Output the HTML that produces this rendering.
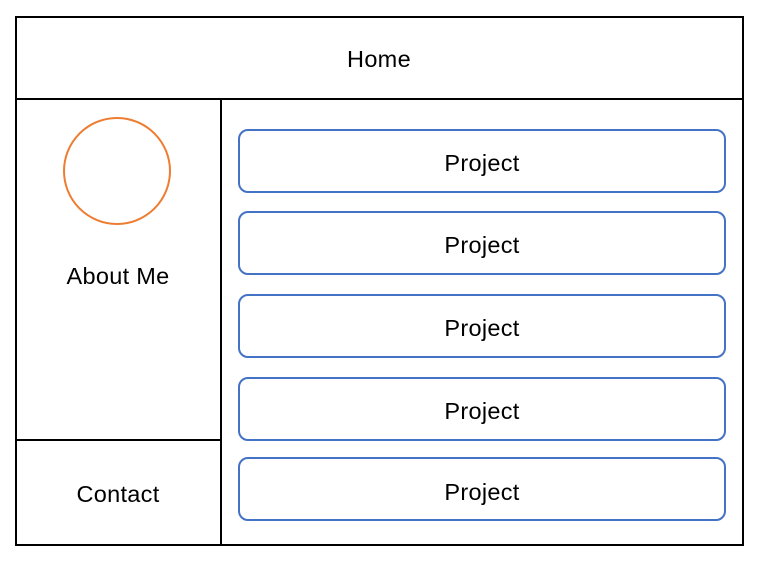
<!DOCTYPE html>
<html><head><style>
body{margin:0;width:765px;height:556px;background:#fff;font-family:"Liberation Sans",sans-serif;}
</style></head><body>
<svg width="765" height="556" xmlns="http://www.w3.org/2000/svg" font-family="Liberation Sans, sans-serif" font-size="23.5" letter-spacing="0.3">
<rect x="16" y="17" width="727" height="528" fill="none" stroke="#000" stroke-width="2"/>
<line x1="16" y1="99" x2="743" y2="99" stroke="#000" stroke-width="2"/>
<line x1="221" y1="99" x2="221" y2="545" stroke="#000" stroke-width="2"/>
<line x1="16" y1="440" x2="221" y2="440" stroke="#000" stroke-width="2"/>
<text x="379" y="67" text-anchor="middle">Home</text>
<circle cx="117" cy="171" r="53" fill="none" stroke="#ED7D31" stroke-width="2"/>
<text x="118" y="284" text-anchor="middle">About Me</text>
<text x="118" y="502" text-anchor="middle">Contact</text>
<g fill="none" stroke="#4472C4" stroke-width="2">
<rect x="239" y="130" width="486" height="62" rx="9"/>
<rect x="239" y="212" width="486" height="62" rx="9"/>
<rect x="239" y="295" width="486" height="62" rx="9"/>
<rect x="239" y="378" width="486" height="62" rx="9"/>
<rect x="239" y="458" width="486" height="62" rx="9"/>
</g>
<g text-anchor="middle">
<text x="482" y="171">Project</text>
<text x="482" y="253">Project</text>
<text x="482" y="336">Project</text>
<text x="482" y="419">Project</text>
<text x="482" y="500">Project</text>
</g>
</svg>
</body></html>
